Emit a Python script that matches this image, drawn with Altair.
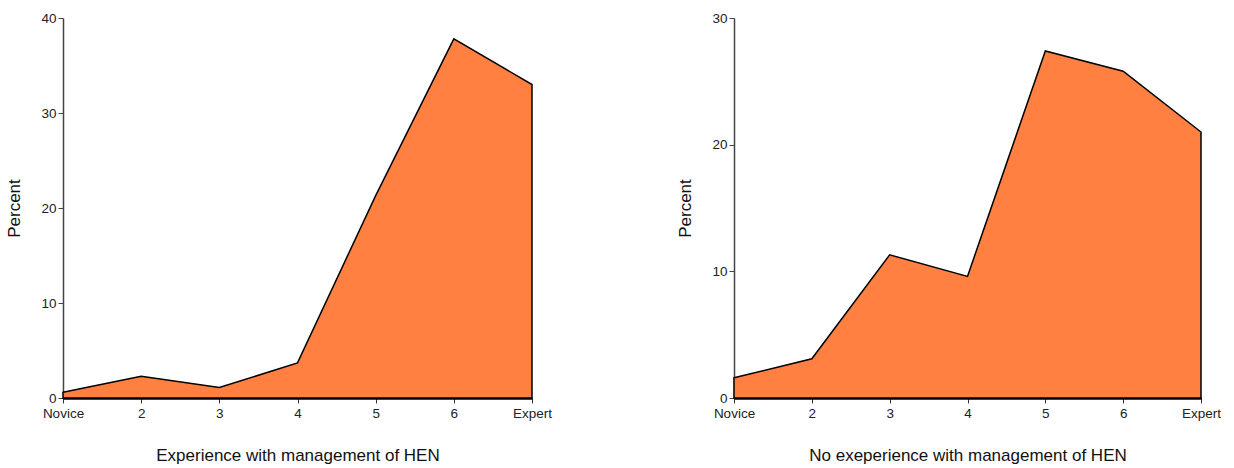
import altair as alt
import pandas as pd

levels = [1, 2, 3, 4, 5, 6, 7]
level_labels = ["Novice", "2", "3", "4", "5", "6", "Expert"]
exp_values = [0.6, 2.3, 1.1, 3.7, 21.3, 37.8, 33.0]
noexp_values = [1.6, 3.1, 11.3, 9.6, 27.4, 25.8, 21.0]

label_expr = "[" + ",".join("'%s'" % s for s in level_labels) + "][datum.value - 1]"
FONT = "Liberation Sans"


def panel(values, title, ymax, width):
    df = pd.DataFrame({"level": levels, "pct": values})
    return alt.Chart(df).mark_area(
        color="#FF8040", stroke="black", strokeWidth=1.5, fillOpacity=1
    ).encode(
        x=alt.X("level:Q",
                scale=alt.Scale(domain=[1, 7], nice=False, zero=False),
                axis=alt.Axis(values=levels, labelExpr=label_expr, title=title,
                              grid=False, domainColor="black", domainWidth=2.5,
                              tickColor="#333", tickSize=5, labelFontSize=13.5,
                              labelColor="#222", labelPadding=3, labelFlush=False,
                              titleFontSize=17, titleFontWeight="normal",
                              titleColor="#111", titlePadding=28,
                              labelFont=FONT, titleFont=FONT)),
        y=alt.Y("pct:Q",
                scale=alt.Scale(domain=[0, ymax], nice=False),
                axis=alt.Axis(values=list(range(0, ymax + 1, 10)), title="Percent",
                              grid=False, domainColor="#444", domainWidth=1.5,
                              tickColor="#444", tickSize=5, labelFontSize=13.5,
                              labelColor="#222", labelPadding=2,
                              titleFontSize=17, titleFontWeight="normal",
                              titleColor="#111", titlePadding=17,
                              labelFont=FONT, titleFont=FONT)),
    ).properties(width=width, height=380)


left = panel(exp_values, "Experience with management of HEN", 40, 469)
right = panel(noexp_values, "No exeperience with management of HEN", 30, 467)

chart = alt.hconcat(left, right, spacing=124).configure_view(
    stroke=None
).properties(padding={"left": 5, "top": 11, "right": 0, "bottom": 0}, background="white")

chart.save("out.html", embed_options={"renderer": "svg", "actions": False})
